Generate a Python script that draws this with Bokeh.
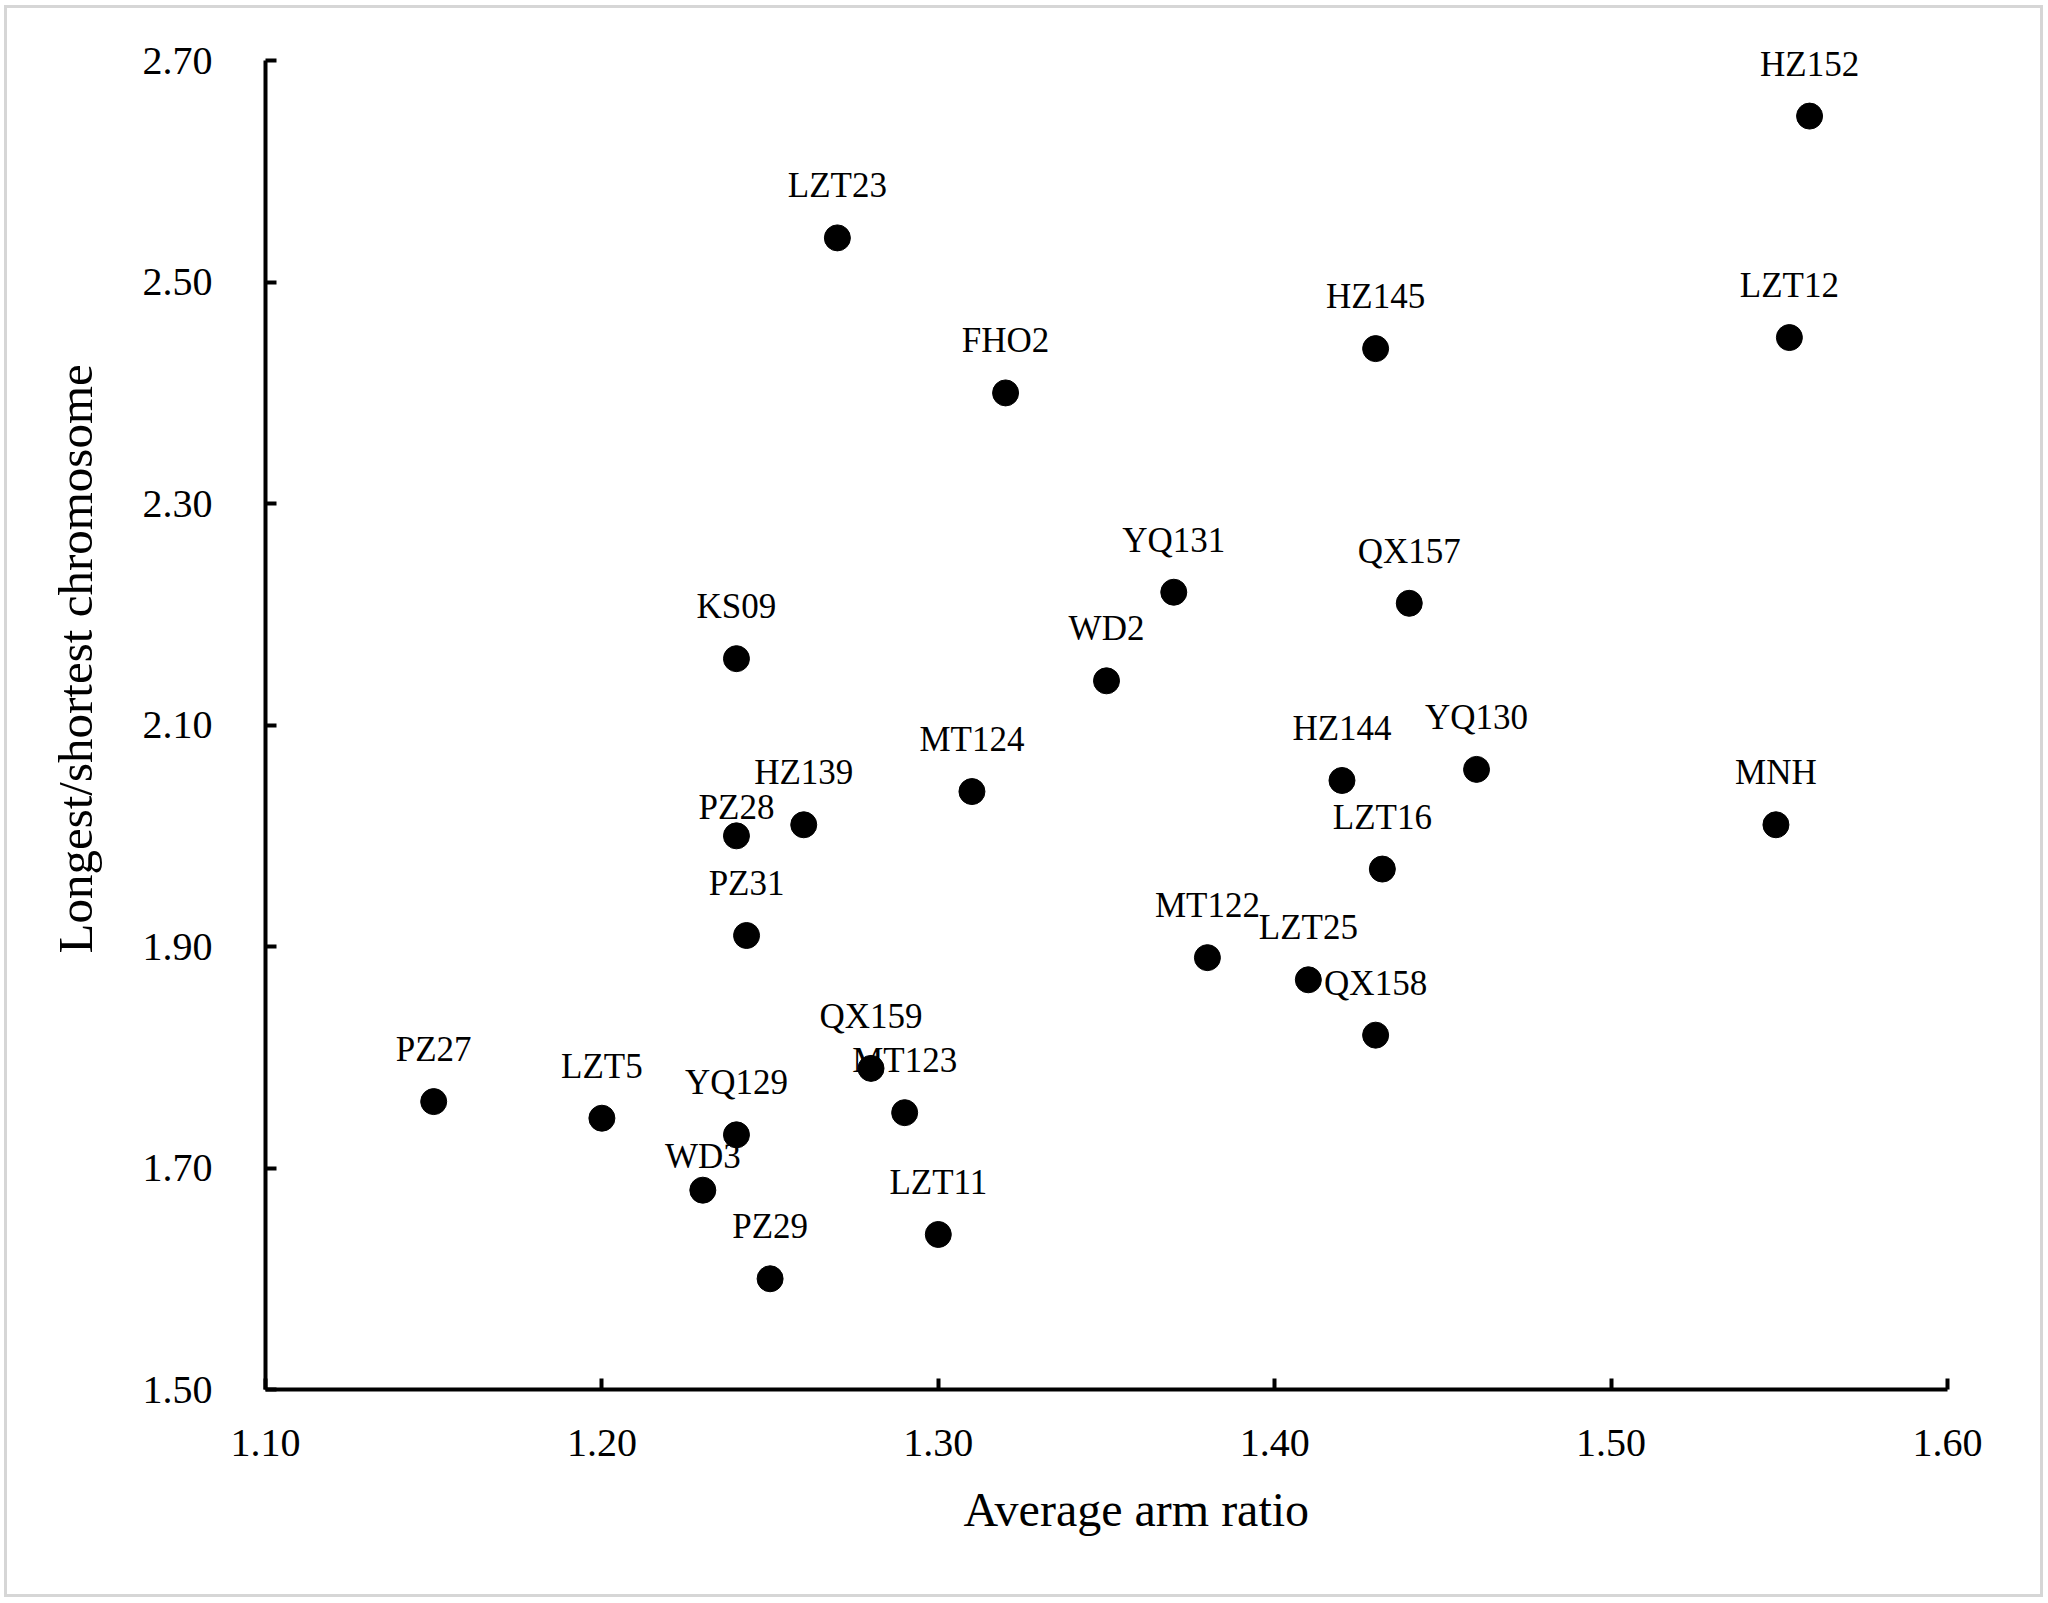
from bokeh.plotting import figure
from bokeh.models import ColumnDataSource, FixedTicker, PrintfTickFormatter, Title
from bokeh.core.properties import value
from bokeh.embed import file_html
from bokeh.resources import INLINE

# ---- data ----
names = ["HZ152", "LZT23", "HZ145", "LZT12", "FHO2", "YQ131", "QX157", "KS09",
         "WD2", "YQ130", "HZ144", "MT124", "HZ139", "MNH", "PZ28", "LZT16",
         "PZ31", "MT122", "LZT25", "QX158", "QX159", "PZ27", "MT123", "LZT5",
         "YQ129", "WD3", "LZT11", "PZ29"]
arm_ratio = [1.559, 1.27, 1.43, 1.553, 1.32, 1.37, 1.44, 1.24,
             1.35, 1.46, 1.42, 1.31, 1.26, 1.549, 1.24, 1.432,
             1.243, 1.38, 1.41, 1.43, 1.28, 1.15, 1.29, 1.20,
             1.24, 1.23, 1.30, 1.25]
long_short = [2.65, 2.54, 2.44, 2.45, 2.40, 2.22, 2.21, 2.16,
              2.14, 2.06, 2.05, 2.04, 2.01, 2.01, 2.00, 1.97,
              1.91, 1.89, 1.87, 1.82, 1.79, 1.76, 1.75, 1.745,
              1.73, 1.68, 1.64, 1.60]
x_ticks = [1.10, 1.20, 1.30, 1.40, 1.50, 1.60]
y_ticks = [1.50, 1.70, 1.90, 2.10, 2.30, 2.50, 2.70]
x_title = "Average arm ratio"
y_title = "Longest/shortest chromosome"

# label placement nudges (screen px, downward) for a few crowded labels
label_nudge = {"WD3": 18, "PZ28": 24}

FONT = "Liberation Serif"
LABEL_UP = -52

src = ColumnDataSource(dict(
    x=arm_ratio, y=long_short, name=names,
    yoff=[LABEL_UP + label_nudge.get(n, 0) for n in names],
))

# y range reaches a little above the last tick so the top label is not clipped;
# the axis line itself stops at 2.70 (bounds)
p = figure(width=2039, height=1592, output_backend="svg", toolbar_location=None,
           x_range=(1.10, 1.60), y_range=(1.50, 2.73),
           min_border_left=258, min_border_right=99,
           min_border_top=19, min_border_bottom=211,
           styles={"border": "3px solid #d6d6d6", "margin": "5px 0 0 4px"})
p.background_fill_color = "white"
p.border_fill_color = "white"
p.outline_line_color = None
p.grid.visible = False

p.scatter("x", "y", source=src, size=26, fill_color="black", line_color="black")
p.text("x", "y", text="name", source=src, y_offset="yoff",
       text_align="center", text_baseline="alphabetic",
       text_font=value(FONT), text_font_size="35px", text_color="black")

for ax in (p.xaxis[0], p.yaxis[0]):
    ax.axis_line_width = 4
    ax.axis_line_color = "black"
    ax.major_tick_line_width = 4
    ax.major_tick_line_color = "black"
    ax.major_tick_in = 11
    ax.major_tick_out = 0
    ax.minor_tick_in = 0
    ax.minor_tick_out = 0
    ax.major_label_text_font = FONT
    ax.major_label_text_font_size = "40px"
    ax.major_label_text_color = "black"
    ax.formatter = PrintfTickFormatter(format="%.2f")

p.xaxis[0].ticker = FixedTicker(ticks=x_ticks)
p.yaxis[0].ticker = FixedTicker(ticks=y_ticks)
p.yaxis[0].bounds = (y_ticks[0], y_ticks[-1])
p.xaxis[0].major_label_standoff = 40
p.yaxis[0].major_label_standoff = 53

# axis titles (placed off-centre as in the original)
xt = Title(text=x_title, align="left", offset=698, standoff=45,
           text_font=FONT, text_font_size="48px", text_font_style="normal",
           text_color="black")
yt = Title(text=y_title, align="left", offset=436, standoff=74,
           text_font=FONT, text_font_size="49px", text_font_style="normal",
           text_color="black")
p.add_layout(xt, "below")
p.add_layout(yt, "left")

open("out.html", "w").write(file_html(p, INLINE))
